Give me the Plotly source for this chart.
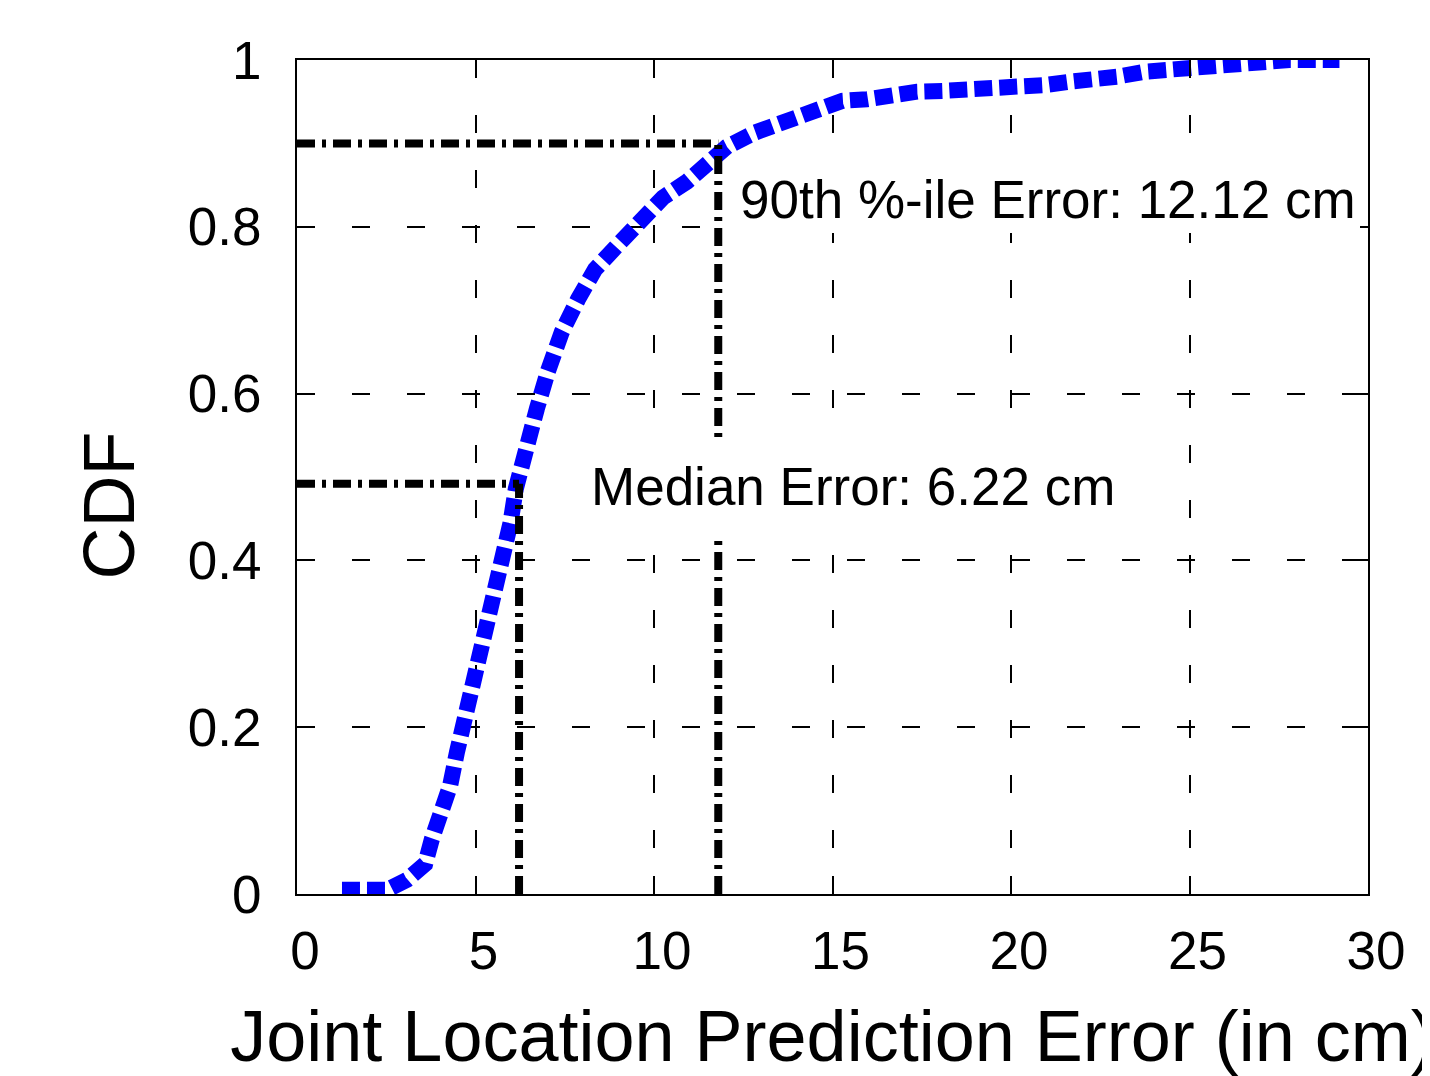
import plotly.graph_objects as go

# CDF curve
err_cm = [1.26, 2.52, 3.08, 3.59, 3.78, 4.03, 4.29, 4.48, 4.70, 4.93, 5.13, 5.41, 5.62, 5.83,
          5.98, 6.13, 6.39, 6.72, 7.03, 7.42, 7.87, 8.35, 8.96, 9.61, 10.25, 10.92, 11.62,
          12.04, 12.83, 13.59, 14.50, 15.27, 15.97, 16.70, 17.37, 18.10, 18.80, 19.47, 20.25,
          20.95, 21.66, 22.30, 22.97, 23.75, 24.45, 25.07, 25.77, 26.30, 27.00, 27.80, 28.50, 29.20]
cdf = [0.005, 0.005, 0.017, 0.036, 0.066, 0.094, 0.130, 0.170, 0.209, 0.250, 0.294, 0.335,
       0.370, 0.405, 0.445, 0.486, 0.534, 0.582, 0.627, 0.674, 0.713, 0.749, 0.777, 0.809,
       0.835, 0.854, 0.877, 0.896, 0.913, 0.925, 0.938, 0.951, 0.953, 0.959, 0.962, 0.963,
       0.964, 0.965, 0.967, 0.970, 0.974, 0.976, 0.980, 0.986, 0.989, 0.992, 0.995, 0.998,
       0.998, 1.0, 1.0, 1.0]

median_x, median_y = 6.22, 0.492
p90_x, p90_y = 11.8, 0.9

median_label = "Median Error: 6.22 cm"
p90_label = "90th %-ile Error: 12.12 cm"
x_title = "Joint Location Prediction Error (in cm)"
y_title = "CDF"

FONT = "Liberation Sans, Arial, sans-serif"
DASHDOT = "18px,7px,4px,7px"

fig = go.Figure()
fig.add_trace(go.Scatter(x=err_cm, y=cdf, mode="lines",
                         line=dict(color="#0000FF", width=16, dash="18px,7px"),
                         showlegend=False))
for xs, ys in [([0, median_x], [median_y, median_y]),
               ([median_x, median_x], [0, median_y]),
               ([0, p90_x], [p90_y, p90_y]),
               ([p90_x, p90_x], [0, p90_y])]:
    fig.add_trace(go.Scatter(x=xs, y=ys, mode="lines",
                             line=dict(color="black", width=8, dash=DASHDOT),
                             showlegend=False))

axis_common = dict(showline=True, linecolor="black", linewidth=2, mirror="ticks",
                   ticks="inside", ticklen=18, tickwidth=2, tickcolor="black",
                   showgrid=True, gridcolor="black", gridwidth=2, griddash="18px,37px",
                   zeroline=False, tickfont=dict(family=FONT, size=53, color="black"))

fig.update_layout(
    width=1422, height=1068,
    margin=dict(l=289, r=62, t=52, b=179),
    paper_bgcolor="white", plot_bgcolor="white",
    font=dict(family=FONT, color="black"),
    xaxis=dict(range=[0, 30], dtick=5, tick0=0, ticklabelstandoff=9, ticklabelshift=8,
               title=dict(text=x_title, font=dict(family=FONT, size=72, color="black"),
                          standoff=34),
               **axis_common),
    yaxis=dict(range=[0, 1], dtick=0.2, tick0=0, ticklabelstandoff=23, **axis_common),
    annotations=[
        dict(x=-0.1755, y=0.466, xref="paper", yref="paper", text=y_title, textangle=-90,
             showarrow=False, xanchor="center", yanchor="middle",
             font=dict(family=FONT, size=72, color="black")),
        dict(x=7.72, y=0.489, xref="x", yref="y", text=median_label, showarrow=False,
             xanchor="left", yanchor="middle", bgcolor="white", borderpad=18, borderwidth=0,
             font=dict(family=FONT, size=53, color="black")),
        dict(x=12.3, y=0.833, xref="x", yref="y", text=p90_label, showarrow=False,
             xanchor="left", yanchor="middle", bgcolor="white", borderpad=4, borderwidth=0,
             font=dict(family=FONT, size=53, color="black")),
    ],
)

fig.write_html("out.html")
